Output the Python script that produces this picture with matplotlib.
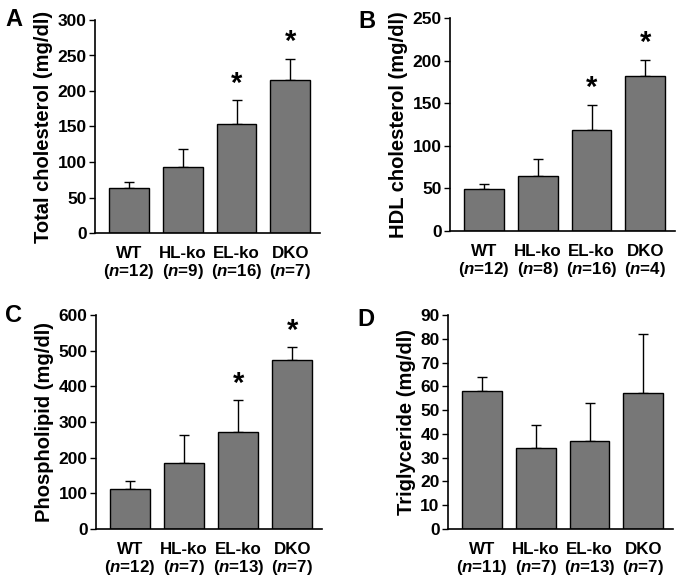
import numpy as np
import matplotlib
matplotlib.use("Agg")
import matplotlib.pyplot as plt

plt.rcParams['font.family'] = ['Liberation Sans', 'DejaVu Sans']
plt.rcParams['font.weight'] = 'bold'
plt.rcParams['mathtext.fontset'] = 'custom'
plt.rcParams['mathtext.it'] = 'Liberation Sans:italic:bold'
plt.rcParams['mathtext.rm'] = 'Liberation Sans:bold'

groups = ['WT', 'HL-ko', 'EL-ko', 'DKO']

# panel A - total cholesterol
tc_mean = [63.5, 93, 153, 215]
tc_err = [8.5, 26, 34, 30]
tc_n = [12, 9, 16, 7]
tc_star = [False, False, True, True]

# panel B - HDL cholesterol
hdl_mean = [49.5, 64.5, 119, 182]
hdl_err = [5.5, 20, 29, 19]
hdl_n = [12, 8, 16, 4]
hdl_star = [False, False, True, True]

# panel C - phospholipid
pl_mean = [113, 184, 271, 473]
pl_err = [21, 80, 90, 36]
pl_n = [12, 7, 13, 7]
pl_star = [False, False, True, True]

# panel D - triglyceride
tg_mean = [57.9, 33.9, 37.1, 57.4]
tg_err = [6, 10, 15.7, 24.5]
tg_n = [11, 7, 13, 7]
tg_star = [False, False, False, False]

panels = [
    ('A', 'Total cholesterol (mg/dl)', tc_mean, tc_err, tc_n, tc_star, 300, 50),
    ('B', 'HDL cholesterol (mg/dl)', hdl_mean, hdl_err, hdl_n, hdl_star, 250, 50),
    ('C', 'Phospholipid (mg/dl)', pl_mean, pl_err, pl_n, pl_star, 600, 100),
    ('D', 'Triglyceride (mg/dl)', tg_mean, tg_err, tg_n, tg_star, 90, 10),
]

W, H = 683, 584
fig = plt.figure(figsize=(W / 100, H / 100), dpi=100)

# axes boxes in pixels: left, top, right, bottom
boxes = [(95, 20, 320, 233), (450, 18, 675, 231),
         (96, 315, 322, 529), (448, 315, 673, 529)]
letter_pos = [(14, 20), (367, 22), (14, 315), (366, 320)]

x = np.arange(len(groups))
for (letter, ylab, mean, err, n, star, ymax, step), box, lp in zip(panels, boxes, letter_pos):
    l, t, r, b = box
    ax = fig.add_axes([l / W, 1 - b / H, (r - l) / W, (b - t) / H])
    ax.bar(x, mean, width=0.74, color='#777777', edgecolor='black', linewidth=1.0, zorder=2)
    ax.errorbar(x, mean, yerr=[np.zeros(len(err)), err], fmt='none', ecolor='black',
                elinewidth=1.0, capsize=3.5, capthick=1.0, zorder=1)
    for i in range(len(x)):
        if star[i]:
            ax.annotate('*', (x[i], mean[i] + err[i]), xytext=(0, 2), textcoords='offset points',
                        ha='center', va='bottom', fontsize=21, fontweight='bold')
    ax.set_xlim(-0.63, 3.55)
    ax.set_ylim(0, ymax)
    ax.set_yticks(np.arange(0, ymax + step / 2, step))
    ax.set_xticks(x)
    ax.set_xticklabels([g + '\n($n$=%d)' % k for g, k in zip(groups, n)], fontsize=12.2,
                       fontweight='bold', linespacing=1.1)
    ax.tick_params(axis='x', length=0, pad=9)
    ax.tick_params(axis='y', length=4, width=1.0, labelsize=12.5, pad=2)
    for lab in ax.get_yticklabels():
        lab.set_fontweight('bold')
    ax.spines['top'].set_visible(False)
    ax.spines['right'].set_visible(False)
    ax.spines['left'].set_linewidth(1.2)
    ax.spines['bottom'].set_linewidth(1.2)
    ax.set_ylabel(ylab, fontsize=14.5, fontweight='bold', labelpad=3)
    fig.text(lp[0] / W, 1 - lp[1] / H, letter, fontsize=17, fontweight='bold',
             ha='center', va='center')

fig.savefig('out.png', dpi=100)
